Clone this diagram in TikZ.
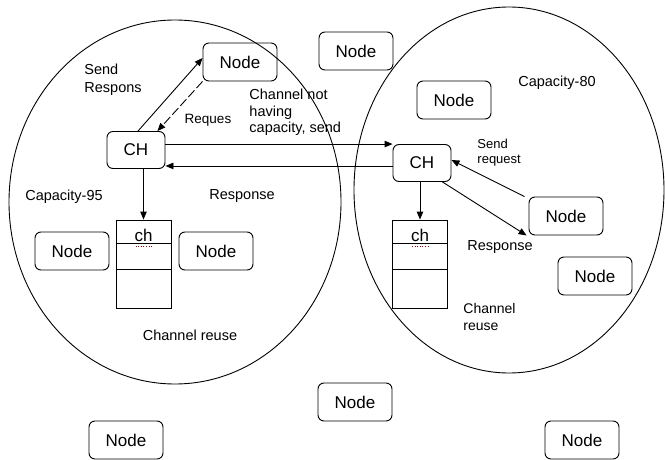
\documentclass[tikz,border=0pt]{standalone}
\usepackage{fontspec}
\setmainfont{Liberation Sans}
\usetikzlibrary{arrows.meta}

\tikzset{
  box/.style={draw,rounded corners=6pt,minimum width=74pt,minimum height=38pt,inner sep=0pt,font=\fontsize{17}{20}\selectfont},
  chbox/.style={box,minimum width=58pt,minimum height=37pt},
  cell/.style={draw,minimum width=55pt,minimum height=88pt,inner sep=0pt},
  lbl/.style={font=\fontsize{14.5}{16.5}\selectfont,inner sep=0pt},
  arr/.style={-{Triangle[length=8pt,width=6.5pt]}},
}

\begin{document}
\begin{tikzpicture}[x=1pt,y=-1pt,line width=0.9pt]
\useasboundingbox (0,0) rectangle (665,460);

% the two cells
\draw (175,202) ellipse [x radius=166, y radius=182];
\draw (509,190) ellipse [x radius=155, y radius=183];

% nodes
\node [box] (nA) at (240,62) {Node};
\node [box] (nTop) at (356,51) {Node};
\node [box] (nB) at (454,100) {Node};
\node [box] (nL1) at (72,251) {Node};
\node [box] (nL2) at (216,251) {Node};
\node [box] (nR1) at (566,216) {Node};
\node [box] (nR2) at (595,276) {Node};
\node [box] (nBot1) at (126,440) {Node};
\node [box] (nBot2) at (355,402) {Node};
\node [box] (nBot3) at (582,440) {Node};

% cluster heads
\node [chbox] (chL) at (136,150) {CH};
\node [chbox] (chR) at (422,163) {CH};

% channel lists
\node [cell] (boxL) at (143.5,264) {};
\node [cell] (boxR) at (420,264) {};
\foreach \b in {boxL,boxR} {
  \draw ([yshift=-24pt]\b.north west) -- ([yshift=-24pt]\b.north east);
  \draw ([yshift=-50pt]\b.north west) -- ([yshift=-50pt]\b.north east);
  \node [font=\fontsize{17}{20}\selectfont,inner sep=0pt,anchor=south] at ([yshift=-23pt]\b.north) {ch};
  \draw [red!60!black,dotted,line width=0.6pt] ([xshift=-8pt,yshift=-27pt]\b.north) -- ([xshift=10pt,yshift=-27pt]\b.north);
}

% connectors
\draw [arr] ([xshift=2pt]chL.north) -- ([yshift=4pt]nA.west);
\draw [arr,dash pattern=on 9pt off 3pt] (nA.south west) -- ([xshift=-8pt]chL.north east);
\draw [arr] (chL.east |- chR.north west) -- (chR.north west);
\draw [arr] ([yshift=3pt]chR.west |- chL.south east) -- ([yshift=3pt]chL.south east);
\draw [arr] (chL.south -| boxL.north) -- (boxL.north);
\draw [arr] (chR.south -| boxR.north) -- (boxR.north);
\draw [arr] ([xshift=-4pt]nR1.north west) -- ([yshift=3pt]chR.east);
\draw [arr] ([xshift=-9pt]chR.south east) -- ([xshift=-2pt]nR1.south west);

% labels
\node [lbl,align=left,anchor=north west] (tSend) at (84,64) {Send\\[1.5pt]Respons};
\node [lbl,font=\fontsize{13.5}{15}\selectfont] (tReq) at (208,120) {Reques};
\node [lbl,align=left,anchor=north west] (tNot) at (249,89) {Channel not\\having\\capacity, send};
\node [lbl] (tCap95) at (64,197) {Capacity-95};
\node [lbl] (tResL) at (242,196) {Response};
\node [lbl] (tReuseL) at (190,335) {Channel reuse};
\node [lbl] (tCap80) at (557,83) {Capacity-80};
\node [lbl,align=left,anchor=north west,font=\fontsize{13}{15}\selectfont] (tSendReq) at (477,139) {Send\\request};
\node [lbl] (tResR) at (500,247) {Response};
\node [lbl,align=left,anchor=north west,font=\fontsize{14}{16.5}\selectfont] (tReuseR) at (463,303) {Channel\\reuse};
\end{tikzpicture}
\end{document}
